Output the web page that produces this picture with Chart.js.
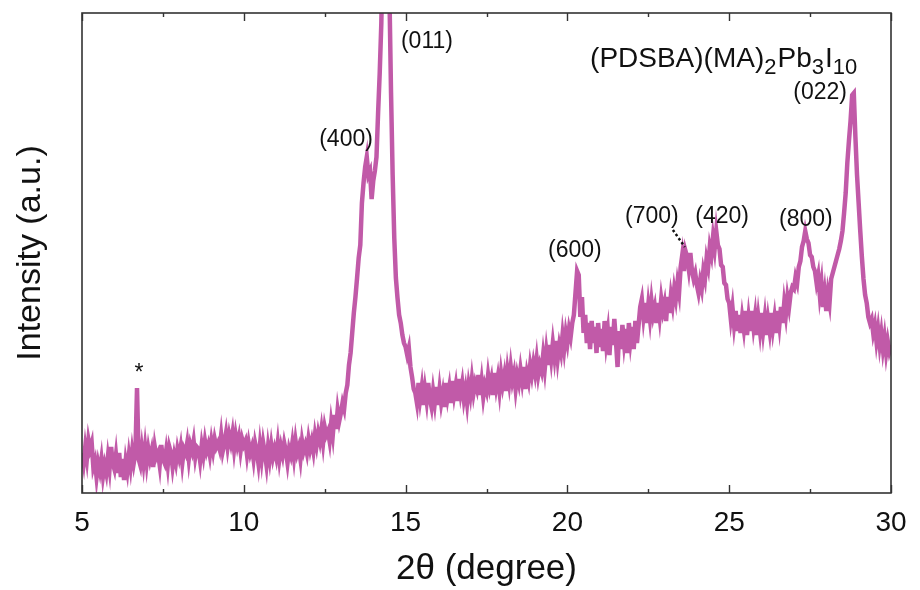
<!DOCTYPE html>
<html>
<head>
<meta charset="utf-8">
<script src="https://cdn.jsdelivr.net/npm/chart.js@4"></script>
<style>
  html, body { margin: 0; padding: 0; background: #fff; }
  #wrap { width: 920px; height: 590px; }
</style>
</head>
<body>
<div id="wrap"><canvas id="xrd"></canvas></div>
<script>
// XRD pattern, 2θ from 5 to 30 deg sampled every 0.05 deg
const twoThetaStart = 5;
const twoThetaStep = 0.05;

// intensity (arbitrary units), one row per degree
const intensity = [
  40, 30, 46, 34, 53, 44, 50, 26, 32, 16, 30, 22, 34, 17, 28, 20, 36, 24, 46, 30,
  24, 38, 20, 40, 16, 34, 13, 32, 22, 38, 26, 42, 30, 40, 105, 34, 28, 44, 30, 46,
  30, 44, 34, 42, 26, 46, 36, 40, 28, 48, 34, 30, 42, 28, 46, 40, 26, 38, 30, 44,
  36, 46, 30, 44, 40, 50, 34, 48, 42, 52, 36, 46, 44, 32, 48, 38, 52, 42, 48, 38,
  52, 42, 54, 46, 50, 44, 58, 42, 50, 60, 46, 58, 50, 60, 44, 58, 48, 56, 42, 54,
  48, 52, 38, 50, 40, 46, 34, 50, 42, 30, 48, 34, 50, 40, 28, 46, 34, 48, 36, 44,
  36, 50, 34, 46, 38, 50, 42, 30, 44, 38, 50, 36, 52, 40, 46, 34, 52, 42, 48, 40,
  54, 44, 52, 42, 58, 48, 60, 52, 64, 50, 66, 58, 62, 52, 70, 58, 78, 64, 83, 72,
  80, 90, 84, 100, 108, 128, 140, 160, 180, 196, 215, 235, 248, 290, 310, 326, 336, 318, 322, 294,
  312, 322, 336, 380, 420, 470, 560, 620, 640, 600, 500, 400, 318, 255, 215, 195, 178, 170, 158, 150,
  146, 138, 145, 126, 116, 104, 100, 90, 110, 94, 106, 88, 104, 92, 110, 94, 86, 102, 90, 106,
  88, 104, 90, 100, 86, 110, 96, 106, 90, 112, 98, 108, 92, 114, 100, 110, 94, 104, 90, 108,
  98, 114, 100, 110, 104, 118, 98, 112, 96, 108, 102, 118, 106, 114, 98, 120, 106, 116, 102, 120,
  108, 118, 102, 122, 110, 126, 112, 120, 104, 118, 110, 124, 112, 126, 104, 120, 112, 128, 118, 130,
  120, 134, 118, 128, 122, 138, 124, 142, 128, 148, 134, 150, 136, 152, 134, 148, 140, 158, 144, 160,
  150, 164, 156, 170, 178, 200, 222, 218, 176, 196, 160, 178, 150, 170, 144, 172, 150, 166, 140, 170,
  146, 164, 142, 172, 150, 162, 138, 166, 148, 174, 152, 126, 162, 144, 168, 150, 164, 140, 170, 152,
  166, 144, 172, 150, 168, 186, 194, 176, 190, 170, 188, 174, 192, 178, 186, 170, 190, 176, 194, 182,
  190, 172, 196, 180, 198, 188, 204, 194, 210, 200, 226, 238, 222, 242, 236, 224, 240, 222, 214, 220,
  208, 200, 212, 204, 222, 214, 234, 226, 246, 238, 256, 244, 262, 248, 244, 228, 226, 210, 208, 194,
  190, 174, 186, 168, 182, 162, 178, 160, 176, 164, 182, 158, 176, 162, 182, 166, 178, 158, 176, 162,
  180, 162, 176, 158, 174, 162, 180, 164, 176, 160, 182, 168, 186, 170, 190, 178, 196, 186, 200, 206,
  204, 216, 210, 226, 232, 246, 252, 262, 254, 250, 238, 236, 226, 222, 210, 218, 198, 210, 186, 200,
  182, 200, 190, 214, 220, 226, 232, 238, 244, 252, 262, 280, 300, 330, 352, 372, 398, 400, 356, 318,
  290, 262, 236, 214, 198, 190, 176, 170, 174, 160, 168, 152, 164, 148, 160, 144, 156, 140, 152, 142,
  148
];

const xTickValues = [5, 10, 15, 20, 25, 30];

// peak labels: text, 2θ, intensity where the label is centred
const peakLabels = ['*', '(400)', '(011)', '(600)', '(700)', '(420)', '(800)', '(022)'];
const peakLabelX = [6.76, 13.16, 15.66, 20.23, 22.61, 24.78, 27.37, 27.81];
const peakLabelY = [119, 353, 451, 242, 276, 276, 273, 400];

const points = intensity.map((v, i) => ({ x: +(twoThetaStart + i * twoThetaStep).toFixed(2), y: v }));

const lineColor = 'rgb(193, 90, 168)';
const fontFamily = '"Liberation Sans", Arial, sans-serif';

// frame, inward ticks, labels and sample name
const decorations = {
  id: 'decorations',
  afterDatasetsDraw(chart) {
    const { ctx, chartArea: a, scales } = chart;
    const xs = scales.x, ys = scales.y;
    ctx.save();

    // frame
    ctx.strokeStyle = '#333';
    ctx.lineWidth = 1.6;
    ctx.strokeRect(a.left, a.top, a.right - a.left, a.bottom - a.top);

    // major + minor ticks on bottom and top, pointing inside
    ctx.lineWidth = 1.4;
    for (let t = 5; t <= 30; t += 2.5) {
      const px = Math.round(xs.getPixelForValue(t)) + 0.5;
      const len = t % 5 === 0 ? 8 : 4;
      ctx.beginPath();
      ctx.moveTo(px, a.bottom);
      ctx.lineTo(px, a.bottom - len);
      ctx.moveTo(px, a.top);
      ctx.lineTo(px, a.top + len);
      ctx.stroke();
    }

    // peak labels
    ctx.fillStyle = '#111';
    ctx.font = '23px ' + fontFamily;
    ctx.textAlign = 'center';
    ctx.textBaseline = 'middle';
    peakLabels.forEach((txt, i) => {
      ctx.fillText(txt, xs.getPixelForValue(peakLabelX[i]), ys.getPixelForValue(peakLabelY[i]));
    });

    // dotted leader for (700)
    ctx.strokeStyle = '#111';
    ctx.lineWidth = 2.5;
    ctx.setLineDash([2.5, 2.5]);
    ctx.beginPath();
    ctx.moveTo(xs.getPixelForValue(23.26), ys.getPixelForValue(263));
    ctx.lineTo(xs.getPixelForValue(23.63), ys.getPixelForValue(246));
    ctx.stroke();
    ctx.setLineDash([]);

    // sample name with subscripts
    const parts = [['(PDSBA)(MA)', false], ['2', true], ['Pb', false], ['3', true], ['I', false], ['10', true]];
    const bigFont = '28px ' + fontFamily, smallFont = '22px ' + fontFamily;
    let x = xs.getPixelForValue(20.70);
    const base = ys.getPixelForValue(426);
    ctx.textAlign = 'left';
    ctx.textBaseline = 'alphabetic';
    parts.forEach(([s, sub]) => {
      ctx.font = sub ? smallFont : bigFont;
      ctx.fillText(s, x, sub ? base + 7 : base);
      x += ctx.measureText(s).width + (sub ? 1 : 0);
    });

    ctx.restore();
  }
};

new Chart(document.getElementById('xrd'), {
  type: 'line',
  data: {
    datasets: [{
      data: points,
      borderColor: lineColor,
      borderWidth: 4.5,
      pointRadius: 0,
      tension: 0,
      fill: false,
      clip: 0
    }]
  },
  options: {
    responsive: true,
    maintainAspectRatio: false,
    animation: false,
    events: [],
    layout: { padding: { top: 13, right: 29, left: 0, bottom: 0 } },
    plugins: { legend: { display: false }, tooltip: { enabled: false } },
    scales: {
      x: {
        type: 'linear',
        min: 5,
        max: 30,
        afterBuildTicks(scale) { scale.ticks = xTickValues.map(v => ({ value: v })); },
        afterFit(scale) { scale.height = 97; },
        grid: { display: false, drawTicks: false },
        border: { display: false },
        ticks: {
          color: '#111',
          font: { family: fontFamily, size: 28 },
          padding: 13,
          maxRotation: 0
        },
        title: {
          display: true,
          text: '2θ (degree)',
          color: '#111',
          font: { family: fontFamily, size: 35 },
          padding: { top: 0, bottom: 0 }
        }
      },
      y: {
        min: 0,
        max: 480,
        afterFit(scale) { scale.width = 82; },
        grid: { display: false, drawTicks: false },
        border: { display: false },
        ticks: { display: false },
        title: {
          display: true,
          text: 'Intensity (a.u.)',
          color: '#111',
          font: { family: fontFamily, size: 34 },
          padding: { top: 10, bottom: 0 }
        }
      }
    }
  },
  plugins: [decorations]
});
</script>
</body>
</html>
